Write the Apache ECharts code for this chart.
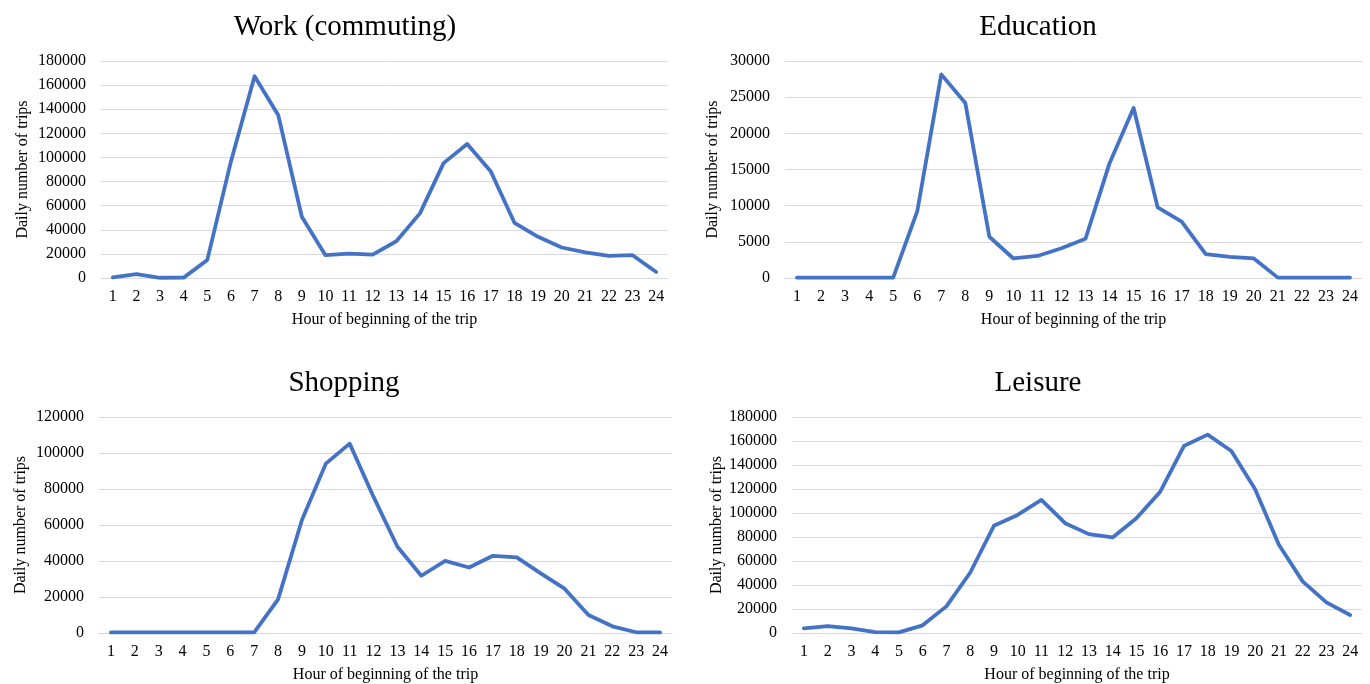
<!DOCTYPE html>
<html>
<head>
<meta charset="utf-8">
<script src="https://cdn.jsdelivr.net/npm/echarts@6/dist/echarts.min.js"></script>
<style>html,body{margin:0;padding:0;background:#fff;}#c{width:1370px;height:684px;}</style>
</head>
<body>
<div id="c"></div>
<script>
const hours = ['1','2','3','4','5','6','7','8','9','10','11','12','13','14','15','16','17','18','19','20','21','22','23','24'];
const titles = ['Work (commuting)', 'Education', 'Shopping', 'Leisure'];
const workTrips = [500, 3300, 200, 300, 15000, 96700, 167300, 135300, 50800, 18900, 20300, 19400, 30500, 53600, 95300, 111100, 88300, 45800, 34200, 25300, 21300, 18300, 18900, 5000];
const educationTrips = [50, 50, 50, 50, 50, 9200, 28150, 24200, 5700, 2700, 3050, 4120, 5420, 15880, 23500, 9770, 7780, 3300, 2920, 2700, 50, 50, 50, 50];
const shoppingTrips = [300, 300, 300, 300, 300, 300, 300, 18700, 62800, 94100, 105200, 75600, 47900, 31800, 40100, 36400, 42900, 42000, 33100, 24600, 10000, 3700, 400, 300];
const leisureTrips = [3900, 5800, 3900, 800, 500, 6400, 22200, 50200, 89300, 98400, 110900, 91500, 82400, 79600, 95700, 117600, 155800, 165300, 151700, 119800, 73500, 43000, 25500, 15000];
const yMax = [180000, 30000, 120000, 180000];
const yStep = [20000, 5000, 20000, 20000];
const xName = 'Hour of beginning of the trip';
const yName = 'Daily number of trips';

const seriesData = [workTrips, educationTrips, shoppingTrips, leisureTrips];
const font = '"Liberation Serif", "Times New Roman", serif';
const grids = [
  {left: 101, right: 702, top: 61, height: 217},
  {left: 785, right: 8, top: 61, height: 217},
  {left: 99, right: 698, top: 417, height: 216},
  {left: 792, right: 8, top: 417, height: 216}
];
const titlePos = [
  {left: 340, top: 8},
  {left: 1033, top: 8},
  {left: 339, top: 364},
  {left: 1033, top: 364}
];
const chart = echarts.init(document.getElementById('c'), null, {renderer: 'canvas'});
const option = {
  backgroundColor: '#fff',
  animation: false,
  title: titles.map((t, i) => ({
    text: t, left: titlePos[i].left, top: titlePos[i].top, textAlign: 'center',
    textStyle: {fontFamily: font, fontSize: 29, fontWeight: 'normal', color: '#000'}
  })),
  grid: grids,
  xAxis: grids.map((g, i) => ({
    type: 'category', gridIndex: i, data: hours, boundaryGap: true,
    name: xName, nameLocation: 'middle', nameGap: 34,
    nameTextStyle: {fontFamily: font, fontSize: 16, color: '#000'},
    axisLine: {lineStyle: {color: '#d9d9d9', width: 1}},
    axisTick: {show: false},
    axisLabel: {fontFamily: font, fontSize: 16, color: '#000', margin: 11, interval: 0}
  })),
  yAxis: grids.map((g, i) => ({
    type: 'value', gridIndex: i, min: 0, max: yMax[i], interval: yStep[i],
    name: yName, nameLocation: 'middle', nameGap: i % 2 === 0 ? 70 : 64,
    nameTextStyle: {fontFamily: font, fontSize: 16, color: '#000'},
    axisLine: {show: false}, axisTick: {show: false},
    axisLabel: {fontFamily: font, fontSize: 16, color: '#000', margin: 15, formatter: v => String(v)},
    splitLine: {lineStyle: {color: '#d9d9d9', width: 1}}
  })),
  series: seriesData.map((d, i) => ({
    type: 'line', xAxisIndex: i, yAxisIndex: i, data: d,
    symbol: 'none', smooth: false,
    lineStyle: {color: '#4472C4', width: 3.8, join: 'round', cap: 'round'}
  }))
};
chart.setOption(option);
</script>
</body>
</html>
